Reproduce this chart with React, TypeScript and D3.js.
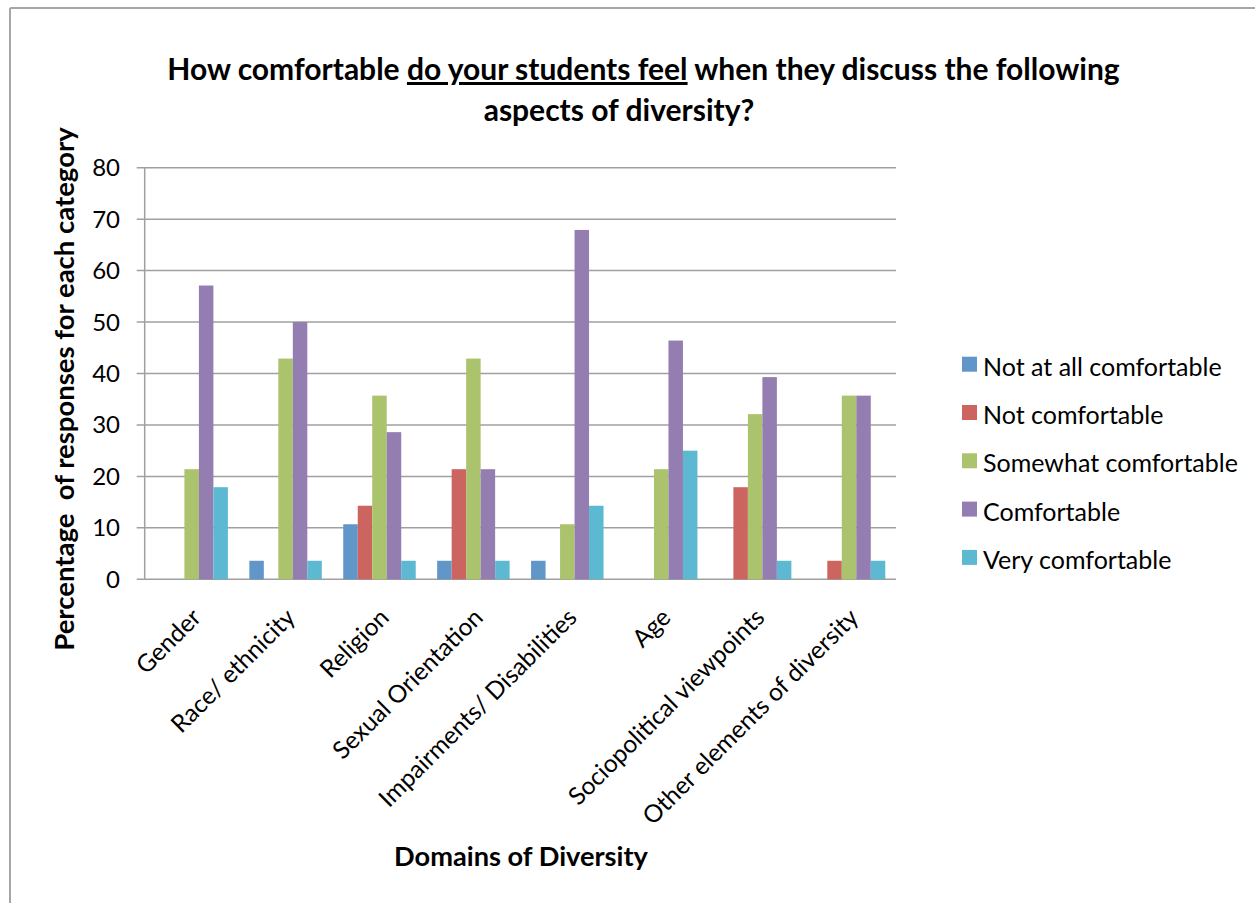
import React from "react";
import * as d3 from "d3";

// Domains of diversity (x categories)
const categories = [
  "Gender",
  "Race/ ethnicity",
  "Religion",
  "Sexual Orientation",
  "Impairments/ Disabilities",
  "Age",
  "Sociopolitical viewpoints",
  "Other elements of diversity",
];

// Response levels (series)
const seriesNames = [
  "Not at all comfortable",
  "Not comfortable",
  "Somewhat comfortable",
  "Comfortable",
  "Very comfortable",
];

const seriesColors = ["#6196c9", "#cc6560", "#aac36c", "#947db1", "#5cb9d1"];

// Percentage of responses, one array per response level, ordered as categories
const notAtAllComfortable = [0, 3.6, 10.7, 3.6, 3.6, 0, 0, 0];
const notComfortable = [0, 0, 14.3, 21.4, 0, 0, 17.9, 3.6];
const somewhatComfortable = [21.4, 42.9, 35.7, 42.9, 10.7, 21.4, 32.1, 35.7];
const comfortable = [57.1, 50, 28.6, 21.4, 67.9, 46.4, 39.3, 35.7];
const veryComfortable = [17.9, 3.6, 3.6, 3.6, 14.3, 25, 3.6, 3.6];

const yTicks = [0, 10, 20, 30, 40, 50, 60, 70, 80];

const seriesValues = [
  notAtAllComfortable,
  notComfortable,
  somewhatComfortable,
  comfortable,
  veryComfortable,
];

const FONT = "Lato, 'Open Sans', sans-serif";
const W = 1255;
const H = 903;
const plot = { left: 144.7, right: 896, top: 167.7, bottom: 579.3 };

export default function App() {
  const x = d3
    .scaleBand<string>()
    .domain(categories)
    .range([plot.left, plot.right])
    .paddingInner(0)
    .paddingOuter(0);
  const step = x.bandwidth();
  const groupPad = (step - (step / 6.48) * 5) / 2;
  const xs = d3
    .scaleBand<number>()
    .domain(d3.range(seriesNames.length))
    .range([groupPad, step - groupPad])
    .padding(0);
  const y = d3.scaleLinear().domain([0, 80]).range([plot.bottom, plot.top]);

  const grid = "#a0a0a0";

  return (
    <svg
      width={W}
      height={H}
      style={{ position: "absolute", left: 0, top: 0, background: "#fff" }}
      fontFamily={FONT}
    >
      {/* chart frame */}
      <line x1={10} y1={8} x2={W} y2={8} stroke="#a6a6a6" strokeWidth={2} />
      <line x1={10} y1={8} x2={10} y2={H} stroke="#a6a6a6" strokeWidth={2} />

      {/* title */}
      <text x={643.5} y={80} textAnchor="middle" fontSize={30} fontWeight={700} fill="#000">
        How comfortable{" "}
        <tspan textDecoration="underline">do your students feel</tspan> when they
        discuss the following
      </text>
      <text x={619} y={121} textAnchor="middle" fontSize={30} fontWeight={700} fill="#000">
        aspects of diversity?
      </text>

      {/* gridlines and y ticks */}
      {yTicks.map((t) => (
        <g key={t}>
          <line
            x1={plot.left - 8}
            x2={plot.right}
            y1={y(t)}
            y2={y(t)}
            stroke={grid}
            strokeWidth={1.5}
          />
          <text x={120} y={y(t) + 8.5} textAnchor="end" fontSize={24} fill="#000">
            {t}
          </text>
        </g>
      ))}
      <line
        x1={plot.left}
        x2={plot.left}
        y1={plot.top}
        y2={plot.bottom}
        stroke={grid}
        strokeWidth={1.5}
      />

      {/* bars */}
      {categories.map((c, ci) => (
        <g key={c} transform={`translate(${x(c)},0)`}>
          {seriesValues.map((vals, si) =>
            vals[ci] > 0 ? (
              <rect
                key={si}
                x={xs(si)}
                width={xs.bandwidth()}
                y={y(vals[ci])}
                height={y(0) - y(vals[ci])}
                fill={seriesColors[si]}
              />
            ) : null
          )}
        </g>
      ))}

      {/* category labels */}
      {categories.map((c) => {
        const cx = (x(c) as number) + step / 2 + 11;
        const cy = 619;
        return (
          <text
            key={c}
            x={cx}
            y={cy}
            transform={`rotate(-45 ${cx} ${cy})`}
            textAnchor="end"
            fontSize={24.5}
            fill="#000"
          >
            {c}
          </text>
        );
      })}

      {/* axis titles */}
      <text
        x={74}
        y={389}
        transform="rotate(-90 74 389)"
        textAnchor="middle"
        fontSize={27.5}
        fontWeight={700}
        fill="#000"
      >
        Percentage&#160; of responses for each category
      </text>
      <text x={521} y={866} textAnchor="middle" fontSize={27.2} fontWeight={700} fill="#000">
        Domains of Diversity
      </text>

      {/* legend */}
      {seriesNames.map((s, i) => {
        const top = 356.7 + i * 48.3;
        return (
          <g key={s}>
            <rect x={962} y={top} width={15} height={15} fill={seriesColors[i]} />
            <text x={983} y={top + 19} fontSize={25} fill="#000">
              {s}
            </text>
          </g>
        );
      })}
    </svg>
  );
}
